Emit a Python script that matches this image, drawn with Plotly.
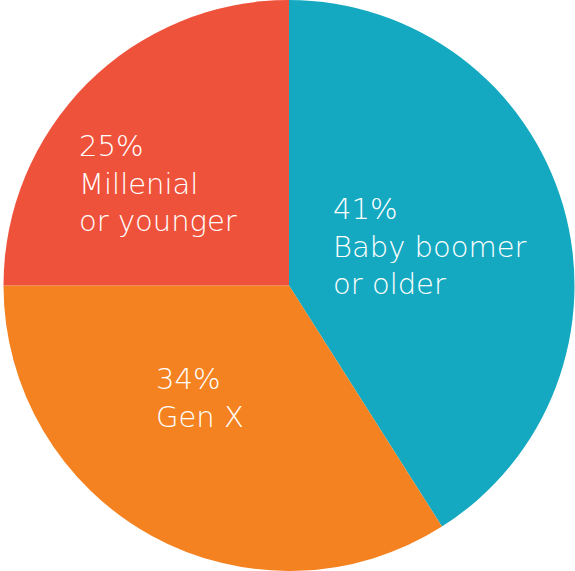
import plotly.graph_objects as go

# Generation share data
labels = ["Baby boomer<br>or older", "Gen X", "Millenial<br>or younger"]
values = [41, 34, 25]
colors = ["#14A9C1", "#F48220", "#EF523B"]

# Label block positions (paper coordinates: x of left edge, y of block middle)
label_x = [331 / 575, 154 / 575, 77 / 575]
label_y = [1 - 246 / 571, 1 - 398 / 571, 1 - 184 / 571]

fig = go.Figure(
    go.Pie(
        labels=labels,
        values=values,
        marker=dict(colors=colors, line=dict(width=0)),
        sort=False,
        direction="clockwise",
        rotation=0,
        textinfo="none",
        hoverinfo="label+percent",
        domain=dict(x=[3 / 575, 1], y=[0, 1]),
        showlegend=False,
    )
)

total = sum(values)
for lab, val, x, y in zip(labels, values, label_x, label_y):
    fig.add_annotation(
        x=x, y=y, xref="paper", yref="paper",
        xanchor="left", yanchor="middle", align="left",
        text=f"{round(val / total * 100)}%<br>{lab}",
        showarrow=False,
        font=dict(family="DejaVu Sans", size=29, color="white", weight=300),
    )

fig.update_layout(
    width=575, height=571,
    margin=dict(l=0, r=0, t=0, b=0),
    paper_bgcolor="white",
    plot_bgcolor="white",
)

fig.write_html("out.html")
